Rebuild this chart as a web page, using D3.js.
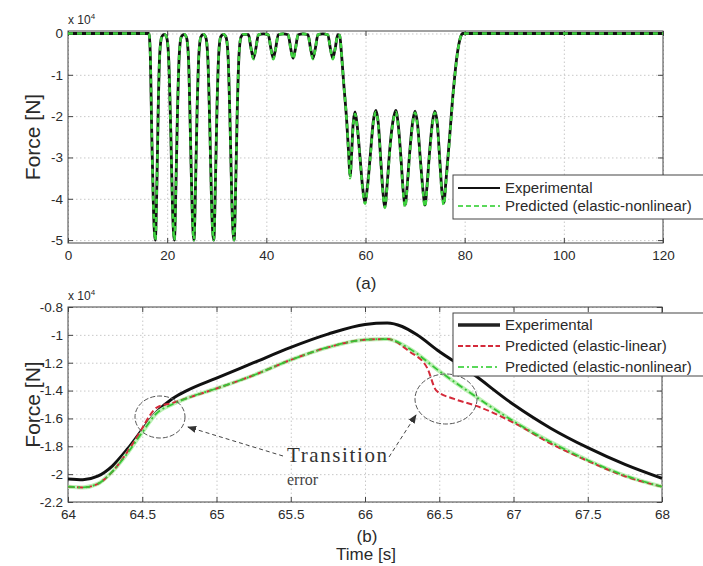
<!DOCTYPE html>
<html><head><meta charset="utf-8">
<script src="https://cdn.jsdelivr.net/npm/d3@7"></script>
<style>body{margin:0;background:#fff}svg{display:block}</style>
</head><body><svg id="c" width="703" height="566"></svg>
<script>
// ---------- data (force in units of x10^4 N) ----------
const topTime = [0,16.3,16.6,16.9,17.25,17.6,17.95,18.2,18.5,18.9,19.4,19.9,20.3,20.75,21.1,21.45,21.8,22.1,22.45,22.85,23.4,23.9,24.3,24.7,25.05,25.4,25.75,26.05,26.4,26.8,27.3,27.8,28.2,28.65,29.0,29.4,29.75,30.05,30.4,30.8,31.35,31.9,32.3,32.75,33.1,33.5,33.85,34.15,34.5,34.9,35.4,36.4,36.9,37.4,37.9,38.4,39.4,40.4,40.9,41.4,41.9,42.4,43.4,44.4,44.9,45.4,45.9,46.4,47.4,48.4,48.9,49.4,49.9,50.4,51.4,52.4,52.9,53.4,53.9,54.4,54.8,55.1,55.6,56.2,56.6,56.9,57.2,57.5,57.9,58.3,58.9,59.4,59.9,60.4,61.0,61.6,62.1,62.6,63.1,63.5,63.9,64.4,64.9,65.5,66.1,66.6,67.2,67.6,68.0,68.4,68.9,69.5,70.0,70.5,71.1,71.6,72.0,72.4,72.9,73.5,74.0,74.5,75.0,75.4,75.8,76.2,76.9,77.7,78.5,79.2,79.6,80.5,120];
const topExperimental = [0,0,-0.5,-2.5,-4.3,-5.0,-3.5,-1.8,-0.5,-0.08,-0.02,-0.1,-0.6,-2.5,-4.3,-5.0,-3.5,-1.8,-0.5,-0.08,-0.02,-0.1,-0.6,-2.5,-4.3,-5.0,-3.5,-1.8,-0.5,-0.08,-0.02,-0.1,-0.6,-2.5,-4.3,-5.0,-3.5,-1.8,-0.5,-0.08,-0.02,-0.1,-0.6,-2.5,-4.3,-5.0,-3.5,-1.8,-0.5,-0.08,-0.02,-0.03,-0.35,-0.6,-0.35,-0.03,-0.01,-0.03,-0.35,-0.6,-0.35,-0.03,-0.01,-0.03,-0.35,-0.6,-0.35,-0.03,-0.01,-0.03,-0.35,-0.6,-0.35,-0.03,-0.01,-0.03,-0.35,-0.6,-0.35,-0.03,-0.05,-0.4,-1.2,-2.1,-2.9,-3.45,-2.9,-2.2,-1.9,-2.2,-3.0,-3.7,-4.07,-3.7,-2.9,-2.1,-1.86,-2.2,-3.1,-3.8,-4.19,-3.6,-2.8,-2.15,-1.86,-2.2,-3.1,-3.8,-4.15,-3.7,-2.9,-2.15,-1.88,-2.2,-3.1,-3.8,-4.15,-3.7,-2.9,-2.15,-1.88,-2.2,-3.1,-3.8,-4.1,-3.6,-2.6,-1.4,-0.5,-0.08,0,0,0];
const topPredicted = [0,0,-0.5,-2.5,-4.3,-5.0,-3.5,-1.8,-0.5,-0.08,-0.02,-0.1,-0.6,-2.5,-4.3,-5.0,-3.5,-1.8,-0.5,-0.08,-0.02,-0.1,-0.6,-2.5,-4.3,-5.0,-3.5,-1.8,-0.5,-0.08,-0.02,-0.1,-0.6,-2.5,-4.3,-5.0,-3.5,-1.8,-0.5,-0.08,-0.02,-0.1,-0.6,-2.5,-4.3,-5.0,-3.5,-1.8,-0.5,-0.08,-0.02,-0.03,-0.36,-0.62,-0.36,-0.03,-0.01,-0.03,-0.36,-0.62,-0.36,-0.03,-0.01,-0.03,-0.36,-0.62,-0.36,-0.03,-0.01,-0.03,-0.36,-0.62,-0.36,-0.03,-0.01,-0.03,-0.36,-0.62,-0.36,-0.03,-0.05,-0.4,-1.2,-2.1,-2.9,-3.5,-2.95,-2.25,-1.95,-2.25,-3.05,-3.75,-4.12,-3.75,-2.95,-2.15,-1.9,-2.25,-3.15,-3.85,-4.22,-3.65,-2.85,-2.2,-1.9,-2.25,-3.15,-3.85,-4.2,-3.75,-2.95,-2.2,-1.92,-2.25,-3.15,-3.85,-4.2,-3.75,-2.95,-2.2,-1.92,-2.25,-3.15,-3.85,-4.15,-3.65,-2.65,-1.45,-0.52,-0.08,0,0,0];

const botTimeExp = [64.0,64.1,64.2,64.3,64.4,64.5,64.6,64.7,64.8,65.0,65.25,65.5,65.75,66.0,66.15,66.25,66.35,66.5,66.7,67.0,67.25,67.5,67.75,68.0];
const botExperimental = [-2.035,-2.04,-2.015,-1.94,-1.82,-1.68,-1.55,-1.46,-1.40,-1.31,-1.20,-1.09,-0.995,-0.925,-0.915,-0.94,-1.0,-1.12,-1.26,-1.50,-1.67,-1.81,-1.93,-2.03];
const botTimeLin = [64.0,64.1,64.2,64.3,64.4,64.5,64.55,64.6,64.7,64.8,65.0,65.25,65.5,65.75,66.0,66.15,66.3,66.42,66.48,66.6,66.75,67.0,67.25,67.5,67.75,68.0];
const botLinear = [-2.09,-2.095,-2.07,-1.98,-1.84,-1.67,-1.58,-1.52,-1.49,-1.455,-1.385,-1.29,-1.18,-1.09,-1.035,-1.03,-1.12,-1.24,-1.40,-1.46,-1.51,-1.63,-1.78,-1.905,-2.015,-2.09];
const botTimeNon = [64.0,64.1,64.2,64.3,64.4,64.5,64.6,64.7,64.8,65.0,65.25,65.5,65.75,66.0,66.15,66.3,66.5,66.7,67.0,67.25,67.5,67.75,68.0];
const botNonlinear = [-2.09,-2.095,-2.07,-1.98,-1.85,-1.70,-1.56,-1.50,-1.455,-1.385,-1.29,-1.18,-1.09,-1.035,-1.03,-1.10,-1.26,-1.41,-1.62,-1.77,-1.90,-2.01,-2.09];

const topXTicks = [0,20,40,60,80,100,120];
const topXTickLabels = ["0","20","40","60","80","100","120"];
const topYTicks = [0,-1,-2,-3,-4,-5];
const topYTickLabels = ["0","-1","-2","-3","-4","-5"];
const botXTicks = [64,64.5,65,65.5,66,66.5,67,67.5,68];
const botXTickLabels = ["64","64.5","65","65.5","66","66.5","67","67.5","68"];
const botYTicks = [-0.8,-1,-1.2,-1.4,-1.6,-1.8,-2,-2.2];
const botYTickLabels = ["-0.8","-1","-1.2","-1.4","-1.6","-1.8","-2","-2.2"];
const legendTop = ["Experimental","Predicted (elastic-nonlinear)"];
const legendBot = ["Experimental","Predicted (elastic-linear)","Predicted (elastic-nonlinear)"];

// ---------- drawing ----------
const svg = d3.select("#c");
svg.append("rect").attr("width",703).attr("height",566).attr("fill","#fff");
const FONT = "'Liberation Sans', Arial, Helvetica, sans-serif";
const TXT = "#2a2a2a";

const defs = svg.append("defs");
defs.append("marker").attr("id","arr").attr("viewBox","0 0 10 10").attr("refX",9).attr("refY",5)
  .attr("markerWidth",9).attr("markerHeight",9).attr("orient","auto-start-reverse")
  .append("path").attr("d","M0,1 L10,5 L0,9 z").attr("fill","#333");

function panel(id, box, xDom, yDom, xT, xL, yT, yL) {
  const x = d3.scaleLinear().domain(xDom).range([box.l, box.r]);
  const y = d3.scaleLinear().domain(yDom).range([box.b, box.t]);
  defs.append("clipPath").attr("id", id).append("rect")
    .attr("x", box.l).attr("y", box.t).attr("width", box.r-box.l).attr("height", box.b-box.t);
  const g = svg.append("g");
  g.append("g").attr("transform",`translate(0,${box.b})`)
    .call(d3.axisBottom(x).tickValues(xT).tickSize(-(box.b-box.t)).tickFormat(""))
    .call(s=>{s.select(".domain").remove();s.selectAll("line").attr("stroke","#c8c8c8").attr("stroke-dasharray","1.5,2.5");});
  g.append("g").attr("transform",`translate(${box.l},0)`)
    .call(d3.axisLeft(y).tickValues(yT).tickSize(-(box.r-box.l)).tickFormat(""))
    .call(s=>{s.select(".domain").remove();s.selectAll("line").attr("stroke","#c8c8c8").attr("stroke-dasharray","1.5,2.5");});
  const style = s=>{s.select(".domain").remove();s.selectAll("line").attr("stroke","#444");
    s.selectAll("text").attr("fill",TXT).attr("font-family",FONT).attr("font-size",13.5);};
  g.append("g").attr("transform",`translate(0,${box.b})`)
    .call(d3.axisBottom(x).tickValues(xT).tickSize(-5).tickPadding(7).tickFormat((d,i)=>xL[i])).call(style);
  g.append("g").attr("transform",`translate(0,${box.t})`)
    .call(d3.axisTop(x).tickValues(xT).tickSize(-5).tickFormat("")).call(style);
  g.append("g").attr("transform",`translate(${box.l},0)`)
    .call(d3.axisLeft(y).tickValues(yT).tickSize(-5).tickPadding(5).tickFormat((d,i)=>yL[i])).call(style);
  g.append("g").attr("transform",`translate(${box.r},0)`)
    .call(d3.axisRight(y).tickValues(yT).tickSize(-5).tickFormat("")).call(style);
  g.append("rect").attr("x",box.l).attr("y",box.t).attr("width",box.r-box.l).attr("height",box.b-box.t)
    .attr("fill","none").attr("stroke","#444").attr("stroke-width",1);
  const ex = svg.append("text").attr("x",box.l).attr("y",box.t-7).attr("font-family",FONT)
    .attr("font-size",12).attr("fill",TXT);
  ex.append("tspan").text("x 10");
  ex.append("tspan").attr("dy",-5).attr("font-size",8).text("4");
  svg.append("text").attr("transform",`translate(40,${(box.t+box.b)/2}) rotate(-90)`)
    .attr("text-anchor","middle").attr("font-family",FONT).attr("font-size",21).attr("fill",TXT).text("Force [N]");
  const plot = svg.append("g").attr("clip-path",`url(#${id})`);
  return {x, y, plot};
}

// ---- panel (a)
const A = panel("clipA", {l:68,r:663,t:31,b:243}, [0,120], [-5.07,0.06],
  topXTicks, topXTickLabels, topYTicks, topYTickLabels);
const lineA = d3.line().x(d=>A.x(d[0])).y(d=>A.y(d[1])).curve(d3.curveMonotoneX);
A.plot.append("path").attr("d", lineA(topTime.map((t,i)=>[t,topExperimental[i]]))).attr("fill","none")
  .attr("stroke","#111").attr("stroke-width",2.8);
A.plot.append("path").attr("d", lineA(topTime.map((t,i)=>[t,topPredicted[i]]))).attr("fill","none")
  .attr("stroke","#3fd23f").attr("stroke-width",2.6).attr("stroke-dasharray","5,4");

svg.append("rect").attr("x",453).attr("y",175).attr("width",270).attr("height",44)
  .attr("fill","#fff").attr("stroke","#444");
svg.append("line").attr("x1",458).attr("x2",500).attr("y1",188).attr("y2",188).attr("stroke","#111").attr("stroke-width",2);
svg.append("line").attr("x1",458).attr("x2",500).attr("y1",206).attr("y2",206).attr("stroke","#5ad85a").attr("stroke-width",2).attr("stroke-dasharray","5,3");
legendTop.forEach((t,i)=>svg.append("text").attr("x",505).attr("y",193+i*18).attr("font-family",FONT)
  .attr("font-size",15).attr("fill",TXT).text(t));

svg.append("text").attr("x",366).attr("y",289).attr("text-anchor","middle").attr("font-family",FONT)
  .attr("font-size",17).attr("fill",TXT).text("(a)");

// ---- panel (b)
const B = panel("clipB", {l:68,r:662,t:307,b:502}, [64,68], [-2.2,-0.8],
  botXTicks, botXTickLabels, botYTicks, botYTickLabels);
const lineB = (xs)=>d3.line().x((d,i)=>B.x(xs[i])).y(d=>B.y(d)).curve(d3.curveMonotoneX);
B.plot.append("path").attr("d", lineB(botTimeExp)(botExperimental)).attr("fill","none")
  .attr("stroke","#111").attr("stroke-width",3);
B.plot.append("path").attr("d", lineB(botTimeNon)(botNonlinear)).attr("fill","none")
  .attr("stroke","#bdf0b5").attr("stroke-width",4);
B.plot.append("path").attr("d", lineB(botTimeLin)(botLinear)).attr("fill","none")
  .attr("stroke","#d42a3a").attr("stroke-width",2).attr("stroke-dasharray","6,3");
B.plot.append("path").attr("d", lineB(botTimeNon)(botNonlinear)).attr("fill","none")
  .attr("stroke","#36c436").attr("stroke-width",1.8).attr("stroke-dasharray","7,3,2,3");

svg.append("ellipse").attr("cx",160).attr("cy",417).attr("rx",25).attr("ry",21)
  .attr("fill","none").attr("stroke","#555").attr("stroke-width",1).attr("stroke-dasharray","5,2");
svg.append("ellipse").attr("cx",446).attr("cy",399).attr("rx",31).attr("ry",25)
  .attr("fill","none").attr("stroke","#555").attr("stroke-width",1).attr("stroke-dasharray","5,2");

svg.append("rect").attr("x",453).attr("y",313).attr("width",270).attr("height",63)
  .attr("fill","#fff").attr("stroke","#444");
svg.append("line").attr("x1",458).attr("x2",500).attr("y1",325).attr("y2",325).attr("stroke","#222").attr("stroke-width",3.5);
svg.append("line").attr("x1",458).attr("x2",500).attr("y1",346).attr("y2",346).attr("stroke","#d42a3a").attr("stroke-width",2).attr("stroke-dasharray","5,2.5");
svg.append("line").attr("x1",458).attr("x2",500).attr("y1",367).attr("y2",367).attr("stroke","#5ad85a").attr("stroke-width",2).attr("stroke-dasharray","6,3,2,3");
legendBot.forEach((t,i)=>svg.append("text").attr("x",505).attr("y",330+i*21).attr("font-family",FONT)
  .attr("font-size",15).attr("fill",TXT).text(t));

svg.append("line").attr("x1",283).attr("y1",456).attr("x2",188).attr("y2",427)
  .attr("stroke","#444").attr("stroke-width",1).attr("stroke-dasharray","4,3").attr("marker-end","url(#arr)");
svg.append("line").attr("x1",389).attr("y1",457).attr("x2",416).attr("y2",415)
  .attr("stroke","#444").attr("stroke-width",1).attr("stroke-dasharray","4,3").attr("marker-end","url(#arr)");
svg.append("text").attr("x",287).attr("y",462).attr("font-family","'Liberation Serif', 'Times New Roman', serif")
  .attr("font-size",21).attr("fill","#333").attr("textLength",100).text("Transition");
svg.append("text").attr("x",287).attr("y",485).attr("font-family","'Liberation Serif', 'Times New Roman', serif")
  .attr("font-size",16).attr("fill","#444").text("error");

svg.append("text").attr("x",367).attr("y",542).attr("text-anchor","middle").attr("font-family",FONT)
  .attr("font-size",17).attr("fill",TXT).text("(b)");
svg.append("text").attr("x",366).attr("y",560).attr("text-anchor","middle").attr("font-family",FONT)
  .attr("font-size",17).attr("fill",TXT).text("Time [s]");
</script></body></html>
